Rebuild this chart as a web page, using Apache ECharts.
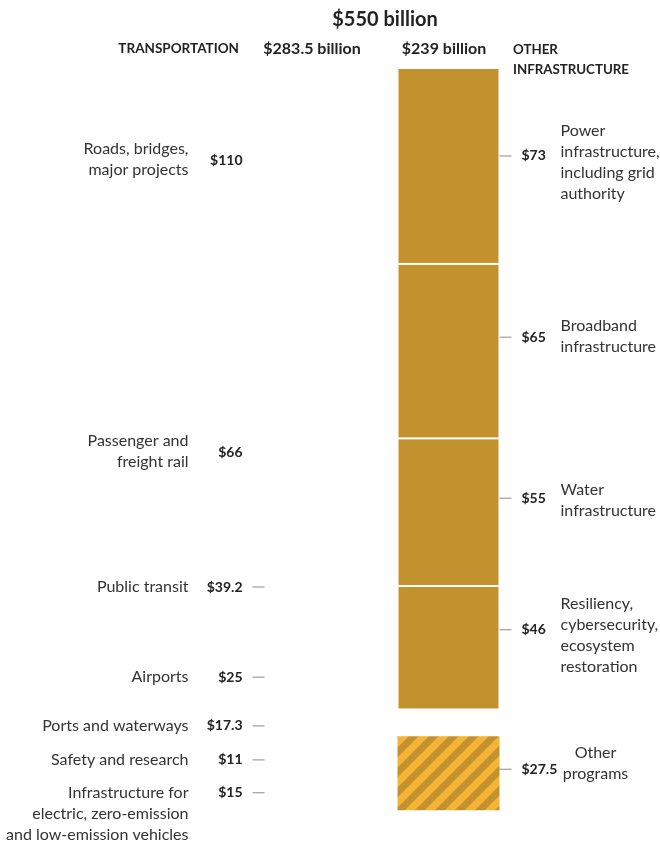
<!DOCTYPE html>
<html><head><meta charset="utf-8">
<script src="https://cdn.jsdelivr.net/npm/echarts@6/dist/echarts.min.js"></script>
<style>html,body{margin:0;padding:0;background:#fff}#c{width:660px;height:841px}</style>
</head><body><div id="c"></div>
<script>
// ---------- data ----------
const columns = ['Transportation', 'Other infrastructure'];
const columnHeads = ['TRANSPORTATION', 'OTHER\nINFRASTRUCTURE'];
const columnTotals = ['$283.5 billion', '$239 billion'];
const grandTotal = '$550 billion';
const transportNames = ['Roads, bridges,\nmajor projects', 'Passenger and\nfreight rail', 'Public transit', 'Airports', 'Ports and waterways', 'Safety and research', 'Infrastructure for\nelectric, zero-emission\nand low-emission vehicles'];
const transportValues = [110, 66, 39.2, 25, 17.3, 11, 15];
const otherNames = ['Power\ninfrastructure,\nincluding grid\nauthority', 'Broadband\ninfrastructure', 'Water\ninfrastructure', 'Resiliency,\ncybersecurity,\necosystem\nrestoration', 'Other\nprograms'];
const otherValues = [73, 65, 55, 46, 27.5];

// ---------- layout (not data) ----------
const tValDy = [-55, 1, -6, -2, -10, -14, -16];
const tNameDy = [-56, 0, -6, -2, -10, -14, 5];
const tDash = [false, false, true, true, true, true, true];
const oValDy = [-10, -14, -14, -18, -4];
const oNameDy = [-4, -15, -12, -12, -10];
const hatchedIndex = 4;   // "Other programs" drawn separated and hatched
const separatorGap = 10;  // blank space (in value units) before the hatched block

const GOLD = '#C3922E';
const LIGHT = '#F5B435';
const FONT = 'Lato';

function stripes() {
  const c = document.createElement('canvas');
  c.width = 20; c.height = 20;
  const g = c.getContext('2d');
  g.fillStyle = GOLD; g.fillRect(0, 0, 20, 20);
  g.strokeStyle = LIGHT; g.lineWidth = 7.2;
  for (const k of [-20, 0, 20, 40]) {
    g.beginPath(); g.moveTo(k - 20, 20 + 20); g.lineTo(k + 40, -20); g.stroke();
  }
  return c;
}
const hatch = { image: stripes(), repeat: 'repeat' };

const dashTok = { width: 12, height: 1, backgroundColor: '#8a8a8a', verticalAlign: 'middle', fontSize: 1 };
const valRich = {
  v: { fontFamily: FONT, fontWeight: 'bold', fontSize: 14, color: '#222', verticalAlign: 'middle' },
  d: dashTok,
  g: { width: 10, fontSize: 1 },
  s: { width: 22, fontSize: 1 }
};
const nameStyle = { fontFamily: FONT, fontSize: 16, lineHeight: 21, color: '#333' };

const series = [];
// Transportation: invisible stack (value labels) + overlay (names)
transportValues.forEach((v, i) => {
  series.push({
    type: 'bar', stack: 'T', barWidth: 102, barGap: '-100%', silent: true,
    itemStyle: { color: 'rgba(0,0,0,0)' },
    label: {
      show: true, position: 'left', distance: 0, rich: valRich,
      formatter: p => '{v|$' + p.value + '}' + (tDash[i] ? '{g| }{d| }' : '{s| }')
    },
    data: [{ value: v, label: { offset: [0, tValDy[i]] } }, '-']
  });
  series.push({
    type: 'bar', stack: 'TN', barWidth: 102, barGap: '-100%', silent: true,
    itemStyle: { color: 'rgba(0,0,0,0)' },
    label: Object.assign({ show: true, position: 'left', distance: 76, formatter: transportNames[i] }, nameStyle),
    data: [{ value: v, label: { offset: [0, tNameDy[i]] } }, '-']
  });
});
// Other infrastructure
otherValues.forEach((v, i) => {
  if (i === hatchedIndex) {
    ['O', 'ON'].forEach(st => series.push({
      type: 'bar', stack: st, barWidth: 102, barGap: '-100%', silent: true,
      itemStyle: { color: 'rgba(0,0,0,0)' }, data: ['-', separatorGap]
    }));
  }
  series.push({
    type: 'bar', stack: 'O', barWidth: 102, barGap: '-100%', silent: true,
    itemStyle: { color: i === hatchedIndex ? hatch : GOLD, borderColor: '#fff', borderWidth: i === hatchedIndex ? 0 : 1 },
    label: {
      show: true, position: 'right', distance: 0, rich: valRich,
      formatter: p => '{d| }{g| }{v|$' + p.value + '}'
    },
    data: ['-', { value: v, label: { offset: [0, oValDy[i]] } }]
  });
  const isH = i === hatchedIndex;
  series.push({
    type: 'bar', stack: 'ON', barWidth: 102, barGap: '-100%', silent: true,
    itemStyle: { color: 'rgba(0,0,0,0)' },
    label: Object.assign({ show: true, position: 'right', distance: isH ? 96 : 61, align: isH ? 'center' : 'left', formatter: otherNames[i] }, nameStyle),
    data: ['-', { value: v, label: { offset: [0, oNameDy[i]] } }]
  });
});

const chart = echarts.init(document.getElementById('c'));
chart.setOption({
  animation: false,
  grid: { left: 249, right: 145, top: 68, bottom: 0 },
  xAxis: { type: 'category', data: columns, show: false },
  yAxis: { type: 'value', inverse: true, min: 0, max: 288, show: false },
  graphic: [
    { type: 'text', x: 385, y: 20, style: { text: grandTotal, font: 'bold 20px ' + FONT, fill: '#222', align: 'center', verticalAlign: 'middle' } },
    { type: 'text', x: 239, y: 49, style: { text: columnHeads[0], font: 'bold 13.5px ' + FONT, fill: '#222', align: 'right', verticalAlign: 'middle' } },
    { type: 'text', x: 312, y: 49, style: { text: columnTotals[0], font: 'bold 16px ' + FONT, fill: '#222', align: 'center', verticalAlign: 'middle' } },
    { type: 'text', x: 444, y: 49, style: { text: columnTotals[1], font: 'bold 16px ' + FONT, fill: '#222', align: 'center', verticalAlign: 'middle' } },
    { type: 'text', x: 513, y: 40, style: { text: columnHeads[1], font: 'bold 13.3px ' + FONT, fill: '#222', align: 'left', verticalAlign: 'top', lineHeight: 20 } }
  ],
  series: series
});
</script>
</body></html>
